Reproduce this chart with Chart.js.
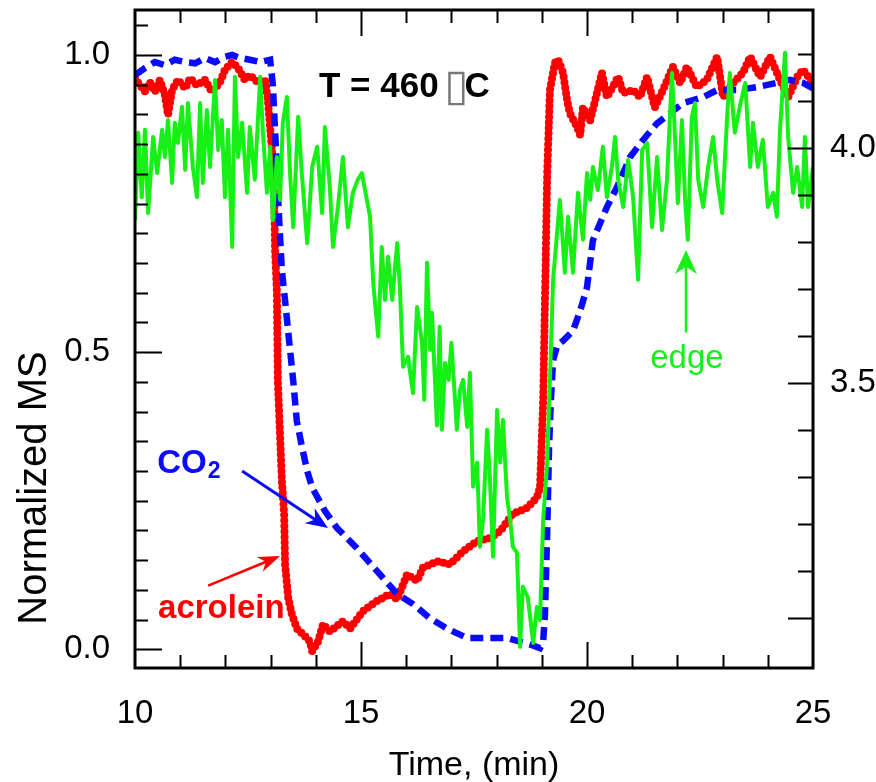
<!DOCTYPE html>
<html>
<head>
<meta charset="utf-8">
<script src="https://cdn.jsdelivr.net/npm/chart.js@4.4.1/dist/chart.umd.min.js"></script>
<style>
	html, body { margin: 0; padding: 0; background: #fff; }
	#wrap { width: 876px; height: 782px; }
</style>
</head>
<body>
<div id="wrap"><canvas id="chart" width="876" height="782"></canvas></div>
<script>
// axis labels
var timeTicks = [10, 15, 20, 25];
var msTicks = [0.0, 0.5, 1.0];
var edgeTicks = [3.5, 4.0];

// acrolein, normalized MS (red dots)
var acroleinTime = [10.00, 10.11, 10.22, 10.33, 10.44, 10.55, 10.66, 10.73, 10.82, 10.95, 11.11, 11.22, 11.37, 11.55, 11.70, 11.88, 11.99, 12.15, 12.28, 12.43, 12.54, 12.72, 12.88, 12.94, 13.03, 13.08, 13.10, 13.14, 13.16, 13.25, 13.30, 13.32, 13.39, 13.47, 13.58, 13.72, 13.87, 13.92, 14.05, 14.16, 14.31, 14.60, 14.76, 15.04, 15.35, 15.64, 15.80, 16.02, 16.24, 16.37, 16.68, 16.97, 17.26, 17.57, 17.85, 18.08, 18.36, 18.67, 18.89, 18.96, 19.03, 19.07, 19.12, 19.18, 19.29, 19.36, 19.47, 19.56, 19.62, 19.78, 19.85, 19.91, 20.07, 20.22, 20.33, 20.44, 20.69, 20.80, 21.02, 21.17, 21.33, 21.50, 21.68, 21.90, 22.06, 22.21, 22.43, 22.65, 22.88, 23.01, 23.23, 23.45, 23.61, 23.83, 24.05, 24.27, 24.45, 24.65, 24.78, 25.00];
var acroleinMS = [0.961, 0.949, 0.939, 0.954, 0.938, 0.958, 0.933, 0.899, 0.941, 0.958, 0.944, 0.961, 0.949, 0.958, 0.938, 0.954, 0.975, 0.988, 0.978, 0.958, 0.966, 0.954, 0.958, 0.924, 0.840, 0.755, 0.671, 0.599, 0.452, 0.283, 0.228, 0.143, 0.086, 0.059, 0.035, 0.025, 0.013, -0.003, 0.013, 0.042, 0.030, 0.047, 0.035, 0.064, 0.081, 0.093, 0.084, 0.126, 0.115, 0.137, 0.148, 0.143, 0.165, 0.182, 0.187, 0.199, 0.228, 0.238, 0.255, 0.272, 0.418, 0.587, 0.801, 0.941, 0.987, 0.992, 0.970, 0.924, 0.902, 0.879, 0.865, 0.912, 0.890, 0.936, 0.970, 0.929, 0.963, 0.936, 0.941, 0.929, 0.963, 0.912, 0.941, 0.980, 0.953, 0.980, 0.946, 0.958, 0.997, 0.929, 0.953, 0.970, 0.997, 0.963, 0.997, 0.958, 0.929, 0.963, 0.975, 0.953];

// CO2, normalized MS (blue dashes)
var co2Time = [10.00, 10.22, 10.44, 10.66, 10.88, 11.11, 11.33, 11.55, 11.77, 11.99, 12.15, 12.32, 12.54, 12.77, 12.99, 13.05, 13.12, 13.19, 13.25, 13.32, 13.41, 13.50, 13.58, 13.69, 13.81, 13.92, 14.20, 14.47, 14.91, 15.35, 15.80, 16.15, 16.53, 16.90, 17.35, 17.79, 18.23, 18.74, 18.96, 19.03, 19.07, 19.12, 19.16, 19.20, 19.25, 19.34, 19.47, 19.69, 19.85, 20.00, 20.13, 20.44, 20.66, 20.95, 21.24, 21.55, 21.84, 22.12, 22.57, 22.88, 23.32, 23.76, 24.20, 24.49, 24.78, 25.00];
var co2MS = [0.966, 0.978, 0.988, 0.983, 0.992, 0.988, 0.986, 0.995, 0.988, 0.997, 1.000, 0.995, 0.992, 0.988, 0.992, 0.949, 0.840, 0.722, 0.637, 0.587, 0.519, 0.452, 0.384, 0.342, 0.300, 0.272, 0.233, 0.204, 0.170, 0.132, 0.093, 0.076, 0.052, 0.035, 0.019, 0.019, 0.019, 0.008, 0.002, 0.013, 0.059, 0.199, 0.339, 0.418, 0.486, 0.511, 0.519, 0.536, 0.570, 0.609, 0.688, 0.744, 0.777, 0.828, 0.857, 0.885, 0.902, 0.919, 0.929, 0.941, 0.941, 0.946, 0.953, 0.958, 0.953, 0.944];

// edge signal, right axis (green line)
var edgeTime = [10.00, 10.07, 10.15, 10.22, 10.29, 10.40, 10.49, 10.60, 10.66, 10.73, 10.82, 10.88, 10.95, 11.04, 11.11, 11.17, 11.28, 11.37, 11.44, 11.50, 11.59, 11.66, 11.77, 11.84, 11.92, 11.99, 12.06, 12.15, 12.21, 12.28, 12.37, 12.48, 12.54, 12.65, 12.77, 12.83, 12.92, 12.99, 13.05, 13.14, 13.21, 13.27, 13.36, 13.43, 13.50, 13.61, 13.69, 13.81, 13.92, 14.03, 14.14, 14.20, 14.31, 14.38, 14.49, 14.60, 14.71, 14.82, 14.93, 15.02, 15.13, 15.20, 15.27, 15.38, 15.46, 15.53, 15.60, 15.69, 15.80, 15.86, 15.93, 16.04, 16.15, 16.24, 16.35, 16.40, 16.46, 16.53, 16.57, 16.68, 16.74, 16.79, 16.86, 16.94, 17.00, 17.08, 17.12, 17.19, 17.26, 17.35, 17.41, 17.48, 17.57, 17.63, 17.70, 17.79, 17.85, 17.92, 18.01, 18.08, 18.14, 18.23, 18.30, 18.36, 18.45, 18.52, 18.58, 18.69, 18.81, 18.89, 18.96, 19.03, 19.12, 19.18, 19.25, 19.40, 19.51, 19.58, 19.69, 19.80, 19.91, 20.00, 20.07, 20.13, 20.24, 20.35, 20.44, 20.55, 20.62, 20.69, 20.80, 20.91, 21.02, 21.13, 21.22, 21.33, 21.44, 21.55, 21.66, 21.77, 21.88, 21.95, 22.01, 22.10, 22.17, 22.23, 22.32, 22.39, 22.46, 22.57, 22.68, 22.79, 22.88, 22.99, 23.10, 23.16, 23.27, 23.38, 23.50, 23.61, 23.67, 23.78, 23.89, 24.00, 24.12, 24.20, 24.27, 24.38, 24.45, 24.56, 24.65, 24.76, 24.82, 24.89, 25.00];
var edgeSignal = [3.847, 4.033, 3.896, 4.039, 3.862, 4.024, 3.947, 4.039, 3.981, 4.060, 3.926, 4.054, 4.011, 4.088, 3.954, 4.096, 3.960, 3.896, 4.096, 3.926, 4.081, 3.960, 4.145, 3.996, 4.060, 3.896, 4.039, 3.790, 4.152, 3.981, 4.054, 3.905, 4.045, 3.933, 4.152, 4.033, 3.905, 4.003, 3.847, 3.981, 3.890, 4.054, 4.109, 3.947, 3.832, 4.067, 3.947, 3.798, 3.960, 4.003, 3.862, 4.045, 3.918, 3.790, 3.875, 3.981, 3.832, 3.905, 3.933, 3.947, 3.890, 3.854, 3.714, 3.599, 3.790, 3.677, 3.769, 3.677, 3.798, 3.705, 3.535, 3.556, 3.479, 3.662, 3.586, 3.465, 3.756, 3.571, 3.650, 3.410, 3.620, 3.401, 3.543, 3.507, 3.586, 3.465, 3.401, 3.486, 3.507, 3.407, 3.522, 3.280, 3.331, 3.152, 3.209, 3.401, 3.301, 3.131, 3.443, 3.331, 3.422, 3.258, 3.209, 3.152, 3.139, 2.939, 3.067, 3.045, 2.947, 3.024, 2.996, 3.209, 3.331, 3.507, 3.720, 3.890, 3.735, 3.854, 3.735, 3.905, 3.805, 3.947, 3.890, 3.960, 3.911, 4.003, 3.896, 3.960, 4.024, 3.933, 3.875, 3.975, 3.896, 3.720, 3.996, 4.011, 3.832, 3.981, 3.826, 3.933, 4.160, 4.018, 3.883, 4.060, 3.890, 3.805, 4.067, 4.096, 3.933, 3.875, 3.960, 4.024, 3.933, 3.862, 4.067, 4.160, 4.033, 4.088, 4.139, 3.960, 4.054, 3.960, 4.018, 3.875, 3.905, 3.854, 4.039, 4.203, 4.024, 3.905, 3.960, 3.875, 4.024, 3.875, 3.960];

var FONT = "'Liberation Sans', Arial, Helvetica, sans-serif";
var RED = '#ff0000';
var BLUE = '#0a0aff';
var GREEN = '#16f016';

function pairs(xs, ys) {
	var out = [];
	for (var i = 0; i < xs.length; i++) {
		out.push({ x: xs[i], y: ys[i] });
	}
	return out;
}

function setTicks(list) {
	return function (scale) {
		scale.ticks = list.map(function (v) { return { value: v }; });
	};
}

// fixed box sizes, no extra padding for the edge labels
function fitWidth(w) {
	return function (s) {
		s.width = w;
		s.paddingTop = 0; s.paddingBottom = 0;
	};
}

function drawArrow(ctx, x1, y1, x2, y2, color, width, head, half) {
	var ang = Math.atan2(y2 - y1, x2 - x1);
	var c = Math.cos(ang), s = Math.sin(ang);
	var bx = x2 - head * c, by = y2 - head * s;
	ctx.strokeStyle = color;
	ctx.fillStyle = color;
	ctx.lineWidth = width;
	ctx.beginPath();
	ctx.moveTo(x1, y1);
	ctx.lineTo(x2 - head * 0.6 * c, y2 - head * 0.6 * s);
	ctx.stroke();
	ctx.beginPath();
	ctx.moveTo(x2, y2);
	ctx.lineTo(bx + half * s, by - half * c);
	ctx.lineTo(x2 - head * 0.7 * c, y2 - head * 0.7 * s);
	ctx.lineTo(bx - half * s, by + half * c);
	ctx.closePath();
	ctx.fill();
}

// frame with inward ticks, like the original plot
var frameTicks = {
	id: 'frameTicks',
	afterDatasetsDraw: function (chart) {
		var ctx = chart.ctx, a = chart.chartArea;
		var sx = chart.scales.x, sl = chart.scales.yL, sr = chart.scales.yR;
		ctx.save();
		ctx.strokeStyle = '#000';
		ctx.lineWidth = 2;
		ctx.beginPath();
		for (var t = 11; t < 25; t++) {
			var px = Math.round(sx.getPixelForValue(t)) + 0.5;
			var len = (t % 5 == 0) ? 26 : 13;
			ctx.moveTo(px, a.bottom); ctx.lineTo(px, a.bottom - len);
			ctx.moveTo(px, a.top); ctx.lineTo(px, a.top + len);
		}
		for (var i = 0; i <= 21; i++) {
			var py = Math.round(sl.getPixelForValue(i * 0.05)) + 0.5;
			var l2 = (i % 10 == 0) ? 27 : 13;
			ctx.moveTo(a.left, py); ctx.lineTo(a.left + l2, py);
		}
		for (var j = 30; j <= 42; j++) {
			var qy = Math.round(sr.getPixelForValue(j / 10)) + 0.5;
			var l3 = (j % 5 == 0) ? 25 : 15;
			ctx.moveTo(a.right, qy); ctx.lineTo(a.right - l3, qy);
		}
		ctx.stroke();
		ctx.lineWidth = 3;
		ctx.strokeRect(a.left, a.top, a.right - a.left, a.bottom - a.top);
		ctx.restore();
	}
};

// titles and text labels
var labels = {
	id: 'labels',
	afterDraw: function (chart) {
		var ctx = chart.ctx, a = chart.chartArea;
		var sx = chart.scales.x, sl = chart.scales.yL;
		function X(t) { return sx.getPixelForValue(t); }
		function Y(v) { return sl.getPixelForValue(v); }
		ctx.save();
		ctx.fillStyle = '#000';
		ctx.textBaseline = 'alphabetic';

		ctx.font = '34px ' + FONT;
		ctx.textAlign = 'center';
		ctx.fillText('Time, (min)', (a.left + a.right) / 2, 775);

		ctx.save();
		ctx.translate(46, 488);
		ctx.rotate(-Math.PI / 2);
		ctx.font = '40px ' + FONT;
		ctx.fillText('Normalized MS', 0, 0);
		ctx.restore();

		// T = 460 C
		ctx.textAlign = 'left';
		ctx.font = 'bold 35px ' + FONT;
		var tx = X(14.07), ty = Y(0.930);
		ctx.fillText('T = 460', tx, ty);
		var w = ctx.measureText('T = 460 ').width;
		ctx.fillStyle = '#777';
		ctx.font = '44px "DejaVu Sans", sans-serif';
		ctx.fillText('\u25AF', tx + w - 4, ty + 3);
		var w2 = ctx.measureText('\u25AF').width;
		ctx.fillStyle = '#000';
		ctx.font = 'bold 35px ' + FONT;
		ctx.fillText('C', tx + w + w2 - 8, ty);

		// CO2
		ctx.fillStyle = BLUE;
		ctx.font = 'bold 33px ' + FONT;
		var cx = X(10.49), cy = Y(0.297);
		ctx.fillText('CO', cx, cy);
		var cw = ctx.measureText('CO').width;
		ctx.font = 'bold 23px ' + FONT;
		ctx.fillText('2', cx + cw + 1, cy + 5);
		drawArrow(ctx, X(12.37), Y(0.300), X(14.27), Y(0.204), BLUE, 3, 22, 9);

		// acrolein
		ctx.fillStyle = RED;
		ctx.font = 'bold 33px ' + FONT;
		ctx.fillText('acrolein', X(10.51), Y(0.053));
		drawArrow(ctx, X(11.62), Y(0.107), X(13.21), Y(0.157), RED, 2.5, 22, 8);

		// edge
		ctx.fillStyle = GREEN;
		ctx.textAlign = 'center';
		ctx.font = '33px ' + FONT;
		ctx.fillText('edge', X(22.21), Y(0.473));
		drawArrow(ctx, X(22.19), Y(0.533), X(22.19), Y(0.672), GREEN, 2.5, 24, 11);
		ctx.restore();
	}
};

var ctx = document.getElementById('chart').getContext('2d');
var chart = new Chart(ctx, {
	type: 'line',
	data: {
		datasets: [{
			label: 'edge',
			data: pairs(edgeTime, edgeSignal),
			yAxisID: 'yR',
			borderColor: GREEN,
			borderWidth: 4,
			borderJoinStyle: 'round',
			pointRadius: 0,
			order: 0
		}, {
			label: 'CO2',
			data: pairs(co2Time, co2MS),
			yAxisID: 'yL',
			borderColor: BLUE,
			borderWidth: 6.5,
			borderDash: [13, 7],
			pointRadius: 0,
			order: 1
		}, {
			label: 'acrolein',
			data: pairs(acroleinTime, acroleinMS),
			yAxisID: 'yL',
			borderColor: RED,
			borderWidth: 8,
			borderDash: [0, 5.5],
			borderCapStyle: 'round',
			borderJoinStyle: 'round',
			pointRadius: 0,
			order: 2
		}]
	},
	options: {
		responsive: false,
		animation: false,
		devicePixelRatio: 1,
		layout: { padding: { top: 10, left: 0, right: 0, bottom: 0 } },
		plugins: {
			legend: { display: false },
			tooltip: { enabled: false }
		},
		elements: { line: { tension: 0 } },
		scales: {
			x: {
				type: 'linear',
				min: 10,
				max: 25,
				afterBuildTicks: setTicks(timeTicks),
				afterFit: function (s) { s.height = 114; s.paddingLeft = 0; s.paddingRight = 0; },
				grid: { display: false },
				border: { display: false },
				ticks: { color: '#000', padding: 18, maxRotation: 0, font: { family: FONT, size: 33 } }
			},
			yL: {
				type: 'linear',
				position: 'left',
				min: -0.0315,
				max: 1.0757,
				afterBuildTicks: setTicks(msTicks),
				afterFit: fitWidth(135),
				grid: { display: false },
				border: { display: false },
				ticks: {
					color: '#000', padding: 17, font: { family: FONT, size: 33 },
					callback: function (v) { return v.toFixed(1); }
				}
			},
			yR: {
				type: 'linear',
				position: 'right',
				min: 2.894,
				max: 4.294,
				afterBuildTicks: setTicks(edgeTicks),
				afterFit: fitWidth(63),
				grid: { display: false },
				border: { display: false },
				ticks: {
					color: '#000', padding: 9, font: { family: FONT, size: 33 },
					callback: function (v) { return v.toFixed(1); }
				}
			}
		}
	},
	plugins: [frameTicks, labels]
});
</script>
</body>
</html>
